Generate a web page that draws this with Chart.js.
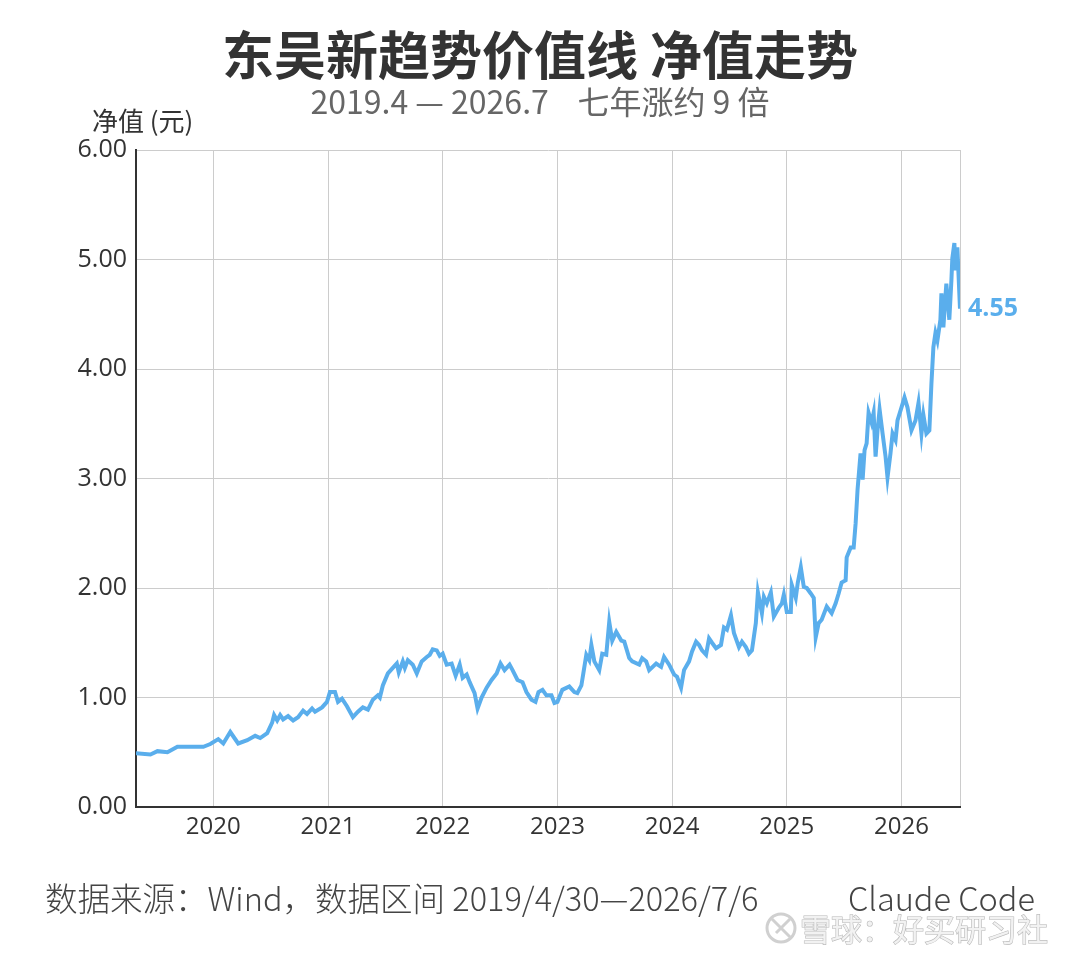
<!DOCTYPE html>
<html>
<head>
<meta charset="utf-8">
<script src="https://cdn.jsdelivr.net/npm/chart.js@4.4.1/dist/chart.umd.min.js"></script>
<style>
  html, body { margin: 0; padding: 0; background: #fff; }
  #wrap { width: 1080px; height: 960px; }
</style>
</head>
<body>
<div id="wrap"><canvas id="navChart" width="1080" height="960"></canvas></div>
<script>
// 日期用小数年份表示（2019/4/30 -> 2019.326）
const dates = [
  2019.326, 2019.452, 2019.513, 2019.600, 2019.687, 2019.861, 2019.913, 2019.974,
  2020.043, 2020.087, 2020.148, 2020.217, 2020.296, 2020.365, 2020.409, 2020.470,
  2020.513, 2020.530, 2020.557, 2020.583, 2020.609, 2020.652, 2020.696, 2020.739,
  2020.783, 2020.817, 2020.861, 2020.887, 2020.948, 2020.991, 2021.017, 2021.061,
  2021.087, 2021.122, 2021.165, 2021.217, 2021.261, 2021.304, 2021.348, 2021.391,
  2021.435, 2021.452, 2021.478, 2021.522, 2021.565, 2021.600, 2021.617, 2021.652,
  2021.670, 2021.696, 2021.739, 2021.774, 2021.817, 2021.861, 2021.887, 2021.913,
  2021.948, 2021.974, 2022.000, 2022.035, 2022.078, 2022.113, 2022.148, 2022.174,
  2022.209, 2022.235, 2022.278, 2022.304, 2022.339, 2022.383, 2022.426, 2022.470,
  2022.504, 2022.539, 2022.583, 2022.609, 2022.652, 2022.696, 2022.730, 2022.774,
  2022.809, 2022.835, 2022.870, 2022.904, 2022.948, 2022.974, 2023.000, 2023.043,
  2023.104, 2023.148, 2023.174, 2023.209, 2023.226, 2023.252, 2023.278, 2023.296,
  2023.322, 2023.365, 2023.391, 2023.426, 2023.452, 2023.478, 2023.513, 2023.557,
  2023.583, 2023.626, 2023.652, 2023.713, 2023.739, 2023.774, 2023.800, 2023.861,
  2023.904, 2023.930, 2023.974, 2024.017, 2024.043, 2024.078, 2024.104, 2024.148,
  2024.174, 2024.209, 2024.235, 2024.261, 2024.296, 2024.322, 2024.348, 2024.383,
  2024.426, 2024.452, 2024.478, 2024.513, 2024.539, 2024.583, 2024.609, 2024.643,
  2024.670, 2024.696, 2024.730, 2024.748, 2024.783, 2024.800, 2024.826, 2024.861,
  2024.887, 2024.930, 2024.957, 2024.974, 2025.000, 2025.035, 2025.043, 2025.078,
  2025.096, 2025.122, 2025.148, 2025.174, 2025.209, 2025.235, 2025.252, 2025.278,
  2025.304, 2025.348, 2025.391, 2025.426, 2025.452, 2025.478, 2025.513, 2025.522,
  2025.557, 2025.583, 2025.600, 2025.617, 2025.643, 2025.661, 2025.678, 2025.696,
  2025.713, 2025.739, 2025.757, 2025.774, 2025.791, 2025.809, 2025.835, 2025.861,
  2025.878, 2025.904, 2025.922, 2025.948, 2025.965, 2026.000, 2026.026, 2026.052,
  2026.087, 2026.122, 2026.148, 2026.174, 2026.191, 2026.217, 2026.243, 2026.261,
  2026.278, 2026.296, 2026.313, 2026.339, 2026.348, 2026.365, 2026.383, 2026.391,
  2026.417, 2026.435, 2026.443, 2026.461, 2026.470, 2026.487, 2026.510
];

const navValues = [
  0.49, 0.48, 0.51, 0.50, 0.55, 0.55, 0.55, 0.575,
  0.62, 0.58, 0.685, 0.58, 0.61, 0.65, 0.63, 0.675,
  0.77, 0.84, 0.79, 0.84, 0.80, 0.83, 0.79, 0.82,
  0.88, 0.85, 0.90, 0.87, 0.91, 0.96, 1.05, 1.05,
  0.96, 0.99, 0.92, 0.82, 0.87, 0.91, 0.89, 0.98,
  1.02, 1.00, 1.11, 1.22, 1.27, 1.31, 1.23, 1.33,
  1.27, 1.34, 1.30, 1.22, 1.33, 1.37, 1.39, 1.44,
  1.43, 1.38, 1.40, 1.30, 1.31, 1.20, 1.30, 1.18,
  1.21, 1.14, 1.04, 0.90, 1.00, 1.09, 1.16, 1.22,
  1.31, 1.25, 1.30, 1.25, 1.16, 1.14, 1.05, 0.98,
  0.96, 1.05, 1.07, 1.02, 1.02, 0.95, 0.96, 1.07,
  1.10, 1.05, 1.04, 1.11, 1.22, 1.39, 1.34, 1.48,
  1.33, 1.25, 1.40, 1.39, 1.69, 1.52, 1.60, 1.52,
  1.51, 1.36, 1.33, 1.30, 1.36, 1.33, 1.25, 1.31,
  1.28, 1.37, 1.30, 1.21, 1.19, 1.09, 1.25, 1.33,
  1.42, 1.51, 1.48, 1.43, 1.39, 1.54, 1.50, 1.45,
  1.48, 1.64, 1.62, 1.75, 1.59, 1.46, 1.51, 1.46,
  1.40, 1.43, 1.68, 1.96, 1.77, 1.92, 1.86, 1.96,
  1.74, 1.82, 1.86, 1.94, 1.78, 1.78, 2.03, 1.91,
  2.05, 2.19, 2.01, 2.00, 1.95, 1.91, 1.55, 1.68,
  1.71, 1.83, 1.77, 1.86, 1.95, 2.05, 2.07, 2.28,
  2.37, 2.37, 2.59, 2.90, 3.23, 2.99, 3.26, 3.32,
  3.60, 3.51, 3.60, 3.20, 3.44, 3.63, 3.41, 3.20,
  3.01, 3.23, 3.41, 3.35, 3.53, 3.65, 3.74, 3.65,
  3.44, 3.53, 3.69, 3.41, 3.58, 3.41, 3.44, 3.87,
  4.20, 4.33, 4.26, 4.45, 4.69, 4.38, 4.66, 4.78,
  4.45, 4.81, 5.01, 5.15, 4.90, 5.11, 4.55
];

const yearTicks = [2020, 2021, 2022, 2023, 2024, 2025, 2026];
const yTickValues = [0, 1, 2, 3, 4, 5, 6];
const startYear = 2019.326;
const endYear = 2026.51;

const titleText = '东吴新趋势价值线 净值走势';
const subtitleText = '2019.4 — 2026.7    七年涨约 9 倍';
const yAxisTitle = '净值 (元)';
const sourceText = '数据来源：Wind，数据区间 2019/4/30—2026/7/6';
const creditText = 'Claude Code';
const watermarkText = '雪球：好买研习社';

const lineColor = '#5aaeec';
const cjk = '"Noto Sans CJK SC", "Noto Sans", sans-serif';

const points = dates.map((d, i) => ({ x: d, y: navValues[i] }));

const textPlugin = {
  id: 'texts',
  afterDraw(chart) {
    const ctx = chart.ctx;
    ctx.save();

    ctx.textAlign = 'center';
    ctx.textBaseline = 'middle';
    ctx.fillStyle = '#333';
    ctx.font = 'bold 52px ' + cjk;
    ctx.fillText(titleText, 540, 55);

    ctx.fillStyle = '#666';
    ctx.font = '32px ' + cjk;
    ctx.fillText(subtitleText, 540, 102);

    ctx.textAlign = 'left';
    ctx.fillStyle = '#333';
    ctx.font = '26px ' + cjk;
    ctx.fillText(yAxisTitle, 92, 121);

    // 末端数值标注
    const meta = chart.getDatasetMeta(0);
    const last = meta.data[meta.data.length - 1];
    ctx.fillStyle = lineColor;
    ctx.font = 'bold 25px "Open Sans", sans-serif';
    ctx.fillText(navValues[navValues.length - 1].toFixed(2), last.x + 8, last.y);

    // 脚注
    ctx.fillStyle = '#444';
    ctx.font = '300 32.5px ' + cjk;
    ctx.textBaseline = 'alphabetic';
    ctx.fillText(sourceText, 45, 911);
    ctx.textAlign = 'right';
    ctx.fillText(creditText, 1035, 911);

    // 水印
    ctx.textAlign = 'left';
    ctx.textBaseline = 'middle';
    ctx.lineWidth = 3;
    ctx.strokeStyle = '#d0d0d0';
    ctx.beginPath();
    ctx.arc(781, 928, 14, 0, Math.PI * 2);
    ctx.stroke();
    ctx.beginPath();
    ctx.moveTo(772, 919); ctx.lineTo(790, 937);
    ctx.moveTo(790, 919); ctx.lineTo(776, 933);
    ctx.stroke();
    ctx.font = '31px ' + cjk;
    ctx.fillStyle = '#f2f2f2';
    ctx.lineWidth = 1.2;
    ctx.strokeStyle = '#b8b8b8';
    ctx.strokeText(watermarkText, 800, 929);
    ctx.fillText(watermarkText, 800, 929);

    ctx.restore();
  }
};

new Chart(document.getElementById('navChart').getContext('2d'), {
  type: 'line',
  data: {
    datasets: [{
      data: points,
      borderColor: lineColor,
      borderWidth: 4,
      pointRadius: 0,
      tension: 0,
      fill: false
    }]
  },
  options: {
    responsive: false,
    animation: false,
    layout: { padding: { top: 150, left: 0, right: 120, bottom: 113 } },
    plugins: {
      legend: { display: false },
      tooltip: { enabled: false }
    },
    scales: {
      x: {
        type: 'linear',
        min: startYear,
        max: endYear,
        afterBuildTicks(scale) {
          scale.ticks = yearTicks.concat([endYear]).map(v => ({ value: v }));
        },
        afterFit(scale) { scale.height = 40; },
        grid: { color: '#cccccc', lineWidth: 1, drawTicks: false },
        border: { color: '#333333', width: 2 },
        ticks: {
          padding: 6,
          color: '#333',
          autoSkip: false,
          maxRotation: 0,
          font: { family: '"Open Sans", sans-serif', size: 24 },
          callback: v => (yearTicks.includes(v) ? String(v) : '')
        }
      },
      y: {
        min: 0,
        max: 6,
        afterBuildTicks(scale) {
          scale.ticks = yTickValues.map(v => ({ value: v }));
        },
        afterFit(scale) { scale.width = 136; },
        grid: { color: '#cccccc', lineWidth: 1, drawTicks: false },
        border: { color: '#333333', width: 2 },
        ticks: {
          padding: 9,
          color: '#333',
          font: { family: '"Open Sans", sans-serif', size: 25 },
          callback: v => Number(v).toFixed(2)
        }
      }
    }
  },
  plugins: [textPlugin]
});
</script>
</body>
</html>
